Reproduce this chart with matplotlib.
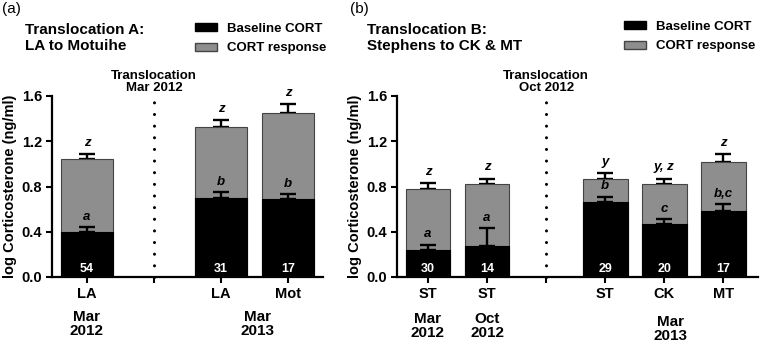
"""
Baseline and stress-induced CORT, two translocations
"""
import matplotlib
matplotlib.use('Agg')
import numpy as np
import matplotlib.pyplot as plt
from matplotlib.patches import Patch
from matplotlib.transforms import blended_transform_factory

################################################################################
# Data
################################################################################
# Panel (a): LA (Mar 2012) | divider | LA, Mot (Mar 2013)
A_POS        = [0, 2, 3]
A_TICKS      = ['LA', '', 'LA', 'Mot']
A_BASE       = [0.40, 0.70, 0.69]
A_BASE_ERR   = [0.04, 0.05, 0.04]
A_TOTAL      = [1.04, 1.33, 1.45]
A_TOTAL_ERR  = [0.045, 0.06, 0.08]
A_N          = ['54', '31', '17']
A_BASE_LET   = ['a', 'b', 'b']
A_TOTAL_LET  = ['z', 'z', 'z']

# Panel (b): ST (Mar 2012), ST (Oct 2012) | divider | ST, CK, MT (Mar 2013)
B_POS        = [0, 1, 3, 4, 5]
B_TICKS      = ['ST', 'ST', '', 'ST', 'CK', 'MT']
B_BASE       = [0.24, 0.275, 0.66, 0.47, 0.58]
B_BASE_ERR   = [0.045, 0.155, 0.05, 0.04, 0.065]
B_TOTAL      = [0.78, 0.82, 0.865, 0.82, 1.02]
B_TOTAL_ERR  = [0.05, 0.05, 0.05, 0.05, 0.07]
B_N          = ['30', '14', '29', '20', '17']
B_BASE_LET   = ['a', 'a', 'b', 'c', 'b,c']
B_TOTAL_LET  = ['z', 'z', 'y', 'y, z', 'z']

GRAY    = '#8e8e8e'
FONT    = 'Liberation Sans'

plt.rcParams['font.family']     = FONT
plt.rcParams['font.weight']     = 'bold'
plt.rcParams['axes.labelweight'] = 'bold'

################################################################################
# Helpers
################################################################################
def draw_panel(ax, pos, base, base_err, total, total_err, n, base_let, total_let,
               ticks, divider, width, xlim, trans_text):
    ax.bar(pos, total, width = width, color = GRAY, edgecolor = '#444444', linewidth = 0.8, zorder = 2)
    ax.bar(pos, base, width = width, color = 'black', edgecolor = 'black', linewidth = 0.8, zorder = 3)

    ax.errorbar(pos, total, yerr = [np.zeros(len(pos)), total_err], fmt = 'none',
                ecolor = 'black', elinewidth = 1.7, capsize = 6, capthick = 1.7, zorder = 1)
    ax.errorbar(pos, base, yerr = [np.zeros(len(pos)), base_err], fmt = 'none',
                ecolor = 'black', elinewidth = 1.7, capsize = 6, capthick = 1.7, zorder = 4)

    for x, t, te, b, be, nn, bl, tl in zip(pos, total, total_err, base, base_err, n, base_let, total_let):
        ax.text(x, t + te + 0.045, tl, ha = 'center', va = 'bottom', fontsize = 9.5,
                style = 'italic', zorder = 5)
        ax.text(x, b + be + 0.04, bl, ha = 'center', va = 'bottom', fontsize = 9.5,
                style = 'italic', zorder = 5)
        ax.text(x, 0.07, nn, ha = 'center', va = 'center', fontsize = 9,
                color = 'white', zorder = 5)

    ax.plot([divider, divider], [0, 1.6], color = 'black', linewidth = 2.2,
            linestyle = (0, (0.01, 3.8)), dash_capstyle = 'round', zorder = 1, clip_on = False)
    ax.text(divider, 1.615, trans_text, ha = 'center', va = 'bottom', fontsize = 9.5,
            linespacing = 1.05)

    ax.set_xlim(*xlim)
    ax.set_ylim(0, 1.6)
    ax.set_yticks([0.0, 0.4, 0.8, 1.2, 1.6])
    ax.set_yticklabels(['0.0', '0.4', '0.8', '1.2', '1.6'])
    ax.set_xticks(range(len(ticks)))
    ax.set_xticklabels(ticks)
    ax.tick_params(labelsize = 10.5, width = 1.5, length = 4, pad = 3)
    for side in ['top', 'right']:
        ax.spines[side].set_visible(False)
    for side in ['left', 'bottom']:
        ax.spines[side].set_linewidth(1.6)
    ax.set_ylabel('log Corticosterone (ng/ml)', fontsize = 10.5, labelpad = 3)


def add_legend(fig, x, y):
    handles = [Patch(facecolor = 'black', edgecolor = 'black'),
               Patch(facecolor = GRAY, edgecolor = '#444444')]
    fig.legend(handles, ['Baseline CORT', 'CORT response'], loc = 'upper left',
               bbox_to_anchor = (x, y), frameon = False, fontsize = 9.5,
               handlelength = 1.7, handleheight = 0.55, handletextpad = 0.7,
               labelspacing = 0.55, borderaxespad = 0, borderpad = 0)


def group_label(ax, x, y, text):
    tr = blended_transform_factory(ax.transData, ax.transAxes)
    ax.text(x, y, text, transform = tr, ha = 'center', va = 'center', fontsize = 11,
            linespacing = 1.0)

################################################################################
# Figure
################################################################################
fig = plt.figure(figsize = (7.6, 3.44), dpi = 100)

ax_a = fig.add_axes([52 / 760, 1 - 277 / 344, 271 / 760, 181 / 344])
ax_b = fig.add_axes([397 / 760, 1 - 277 / 344, 361 / 760, 181 / 344])

draw_panel(ax_a, A_POS, A_BASE, A_BASE_ERR, A_TOTAL, A_TOTAL_ERR, A_N, A_BASE_LET,
           A_TOTAL_LET, A_TICKS, 1, 0.78, (-0.52, 3.52), 'Translocation\nMar 2012')
draw_panel(ax_b, B_POS, B_BASE, B_BASE_ERR, B_TOTAL, B_TOTAL_ERR, B_N, B_BASE_LET,
           B_TOTAL_LET, B_TICKS, 2, 0.76, (-0.525, 5.59), 'Translocation\nOct 2012')

group_label(ax_a, 0, -0.26, 'Mar\n2012')
group_label(ax_a, 2.55, -0.26, 'Mar\n2013')
group_label(ax_b, 0, -0.27, 'Mar\n2012')
group_label(ax_b, 1, -0.27, 'Oct\n2012')
group_label(ax_b, 4.1, -0.29, 'Mar\n2013')

fig.text(2 / 760, 1 - 9 / 344, '(a)', fontsize = 11, fontweight = 'normal', va = 'center')
fig.text(350 / 760, 1 - 9 / 344, '(b)', fontsize = 11, fontweight = 'normal', va = 'center')

fig.text(25 / 760, 1 - 38 / 344, 'Translocation A:\nLA to Motuihe', fontsize = 11,
         va = 'center', linespacing = 1.15)
fig.text(367 / 760, 1 - 38 / 344, 'Translocation B:\nStephens to CK & MT', fontsize = 11,
         va = 'center', linespacing = 1.15)

add_legend(fig, 195 / 760, 1 - 23 / 344)
add_legend(fig, 624 / 760, 1 - 21 / 344)

fig.savefig('out.png', dpi = 100)
